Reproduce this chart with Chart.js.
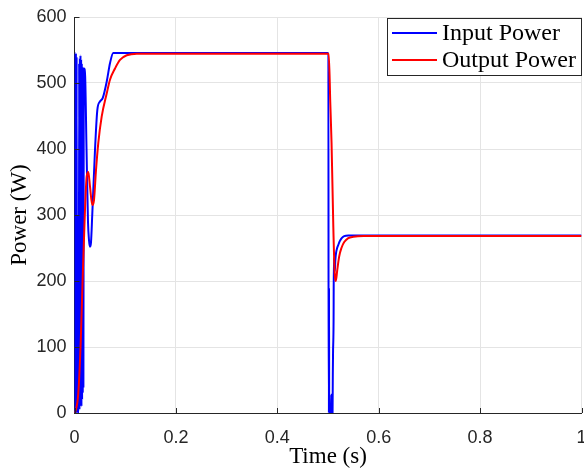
<!DOCTYPE html>
<html>
<head>
<meta charset="utf-8">
<script src="https://cdn.jsdelivr.net/npm/chart.js@4.4.1/dist/chart.umd.min.js"></script>
<style>
  html, body { margin: 0; padding: 0; background: #ffffff; }
  #wrap { width: 584px; height: 468px; position: relative; }
</style>
</head>
<body>
<div id="wrap"><canvas id="c" width="584" height="468"></canvas></div>
<script>
// ---- data ----
const seriesNames = ['Input Power', 'Output Power'];
const xTicks = [0, 0.2, 0.4, 0.6, 0.8, 1];
const yTicks = [0, 100, 200, 300, 400, 500, 600];

const timeIn = [0, 0.0012, 0.002, 0.0028, 0.0035, 0.0042, 0.0048, 0.0055, 0.0065, 0.0085, 0.0092, 0.0098, 0.0105, 0.0111, 0.0118, 0.0124, 0.0131, 0.0137, 0.0144, 0.015, 0.0157, 0.0163, 0.017, 0.0176, 0.0183, 0.019, 0.021,
  0.0237, 0.0266, 0.0286, 0.0306, 0.0325, 0.035, 0.0404, 0.045, 0.0503, 0.0556, 0.0635, 0.070, 0.0765,
  0.5, 0.5008, 0.5012, 0.5018, 0.502, 0.5024, 0.506, 0.5065, 0.507, 0.509, 0.5095, 0.510, 0.5105, 0.511, 0.5115, 0.5125, 0.5135, 0.5145, 0.516, 0.518, 0.520, 0.523, 0.527, 0.532, 0.54, 1];
const powerIn = [0, 545.5, 0, 545.5, 0, 540, 0, 300, 0, 0, 530, 5, 538, 10, 542, 15, 536, 10, 530, 20, 525, 30, 522, 40, 520, 522, 510,
  400, 290, 262, 252, 258, 300, 398, 459, 472, 477, 502, 530, 545.5,
  545.5, 545.5, 0, 0, 190, 0, 0, 28, 0, 0, 60, 95, 110, 140, 235, 228, 215, 232, 243, 250, 254, 260, 265, 268, 269, 269];

const timeOut = [0, 0.0016, 0.0075, 0.0122, 0.0162, 0.0207, 0.024, 0.0272, 0.0306, 0.0351, 0.0385, 0.0424, 0.0469, 0.0536, 0.0635, 0.070, 0.0799, 0.0897, 0.103, 0.123,
  0.5, 0.5015, 0.5045, 0.507, 0.5105, 0.513, 0.5145, 0.5155, 0.518, 0.522, 0.5265, 0.532, 0.54, 0.55, 0.57, 0.6, 1];
const powerOut = [0, 2, 30, 106, 206, 308, 358, 365, 343, 315, 323, 368, 409, 449, 484, 505, 522, 535, 542, 544.5,
  544.5, 544.5, 470, 409, 282, 215, 202, 200, 215, 237, 250, 259, 265, 267, 268, 268, 268];

const toPoints = (xs, ys) => xs.map((x, i) => ({ x: x, y: ys[i] }));

const AXIS = '#262626';
const GRID = '#e4e4e4';

const legendAndTicks = {
  id: 'legendAndTicks',
  afterDatasetsDraw(chart) {
    const ctx = chart.ctx;
    const xs = chart.scales.x, ys = chart.scales.y;
    const area = chart.chartArea;
    ctx.save();
    // inner tick marks (left and bottom)
    ctx.strokeStyle = AXIS;
    ctx.lineWidth = 1;
    xTicks.forEach(v => {
      const px = Math.round(xs.getPixelForValue(v)) + 0.5;
      ctx.beginPath(); ctx.moveTo(px, area.bottom); ctx.lineTo(px, area.bottom - 5); ctx.stroke();
    });
    yTicks.forEach(v => {
      const py = Math.round(ys.getPixelForValue(v)) + 0.5;
      ctx.beginPath(); ctx.moveTo(area.left, py); ctx.lineTo(area.left + 5, py); ctx.stroke();
    });
    // legend box
    const bx = 387.5, by = 18.5, bw = 194, bh = 57;
    ctx.fillStyle = '#ffffff';
    ctx.fillRect(bx, by, bw, bh);
    ctx.strokeStyle = AXIS;
    ctx.strokeRect(bx, by, bw, bh);
    const colors = [chart.data.datasets[0].borderColor, chart.data.datasets[1].borderColor];
    const rowsY = [33, 60];
    ctx.font = '24px "Liberation Serif", "Times New Roman", serif';
    ctx.textBaseline = 'alphabetic';
    ctx.textAlign = 'left';
    seriesNames.forEach((name, i) => {
      ctx.strokeStyle = colors[i];
      ctx.lineWidth = 2;
      ctx.beginPath(); ctx.moveTo(392, rowsY[i]); ctx.lineTo(437, rowsY[i]); ctx.stroke();
      ctx.fillStyle = '#000000';
      ctx.fillText(name, 442, rowsY[i] + 7);
    });
    ctx.restore();
  }
};

new Chart(document.getElementById('c'), {
  type: 'line',
  data: {
    datasets: [
      { label: seriesNames[0], data: toPoints(timeIn, powerIn), borderColor: '#0000ff', borderWidth: 2, pointRadius: 0, cubicInterpolationMode: 'monotone', fill: false, order: 1 },
      { label: seriesNames[1], data: toPoints(timeOut, powerOut), borderColor: '#ff0000', borderWidth: 2, pointRadius: 0, cubicInterpolationMode: 'monotone', fill: false, order: 0 }
    ]
  },
  options: {
    responsive: false,
    animation: false,
    devicePixelRatio: 1,
    layout: { padding: { top: 17, right: 2.5, left: 0, bottom: 0 } },
    plugins: { legend: { display: false }, tooltip: { enabled: false } },
    scales: {
      x: {
        type: 'linear', min: 0, max: 1,
        afterBuildTicks: s => { s.ticks = xTicks.map(v => ({ value: v })); },
        afterFit: s => { s.height = 55; s.paddingLeft = 0; s.paddingRight = 0; },
        ticks: { maxRotation: 0, autoSkip: false, padding: 14, color: AXIS, font: { family: '"Liberation Sans", Arial, sans-serif', size: 18 },
          callback: v => String(v) },
        grid: { color: GRID, drawTicks: false, lineWidth: 1 },
        border: { display: true, color: AXIS, width: 1 },
        title: { display: true, text: 'Time (s)', color: '#000', font: { family: '"Liberation Serif", "Times New Roman", serif', size: 23, lineHeight: 1 }, padding: { top: 0, bottom: 0 } }
      },
      y: {
        type: 'linear', min: 0, max: 600,
        afterBuildTicks: s => { s.ticks = yTicks.map(v => ({ value: v })); },
        afterFit: s => { s.width = 74.5; s.paddingTop = 0; s.paddingBottom = 0; },
        ticks: { padding: 8, color: AXIS, font: { family: '"Liberation Sans", Arial, sans-serif', size: 18 },
          callback: v => String(v) },
        grid: { color: GRID, drawTicks: false, lineWidth: 1 },
        border: { display: true, color: AXIS, width: 1 },
        title: { display: true, text: 'Power (W)', color: '#000', font: { family: '"Liberation Serif", "Times New Roman", serif', size: 23, lineHeight: 1 }, padding: { top: 8, bottom: 0 } }
      }
    }
  },
  plugins: [legendAndTicks]
});
</script>
</body>
</html>
